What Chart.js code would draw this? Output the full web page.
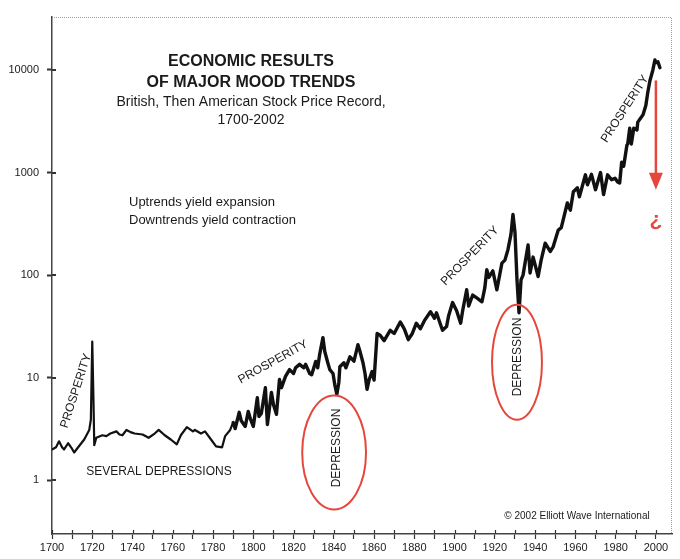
<!DOCTYPE html>
<html>
<head>
<meta charset="utf-8">
<script src="https://cdn.jsdelivr.net/npm/chart.js@4.4.1/dist/chart.umd.min.js"></script>
<style>
  html, body { margin: 0; padding: 0; background: #fff; }
  #wrap { width: 680px; height: 559px; position: relative; }
</style>
</head>
<body>
<div id="wrap"><canvas id="chart"></canvas></div>
<script>
// Stock price record (year, index value)
const years = [
  1700, 1702, 1703.5, 1705, 1706, 1708, 1709.5, 1711, 1713, 1716, 1718.5, 1719.3, 1720, 1720.6, 1721,
  1722, 1725, 1727, 1729, 1732, 1733.5, 1735, 1737, 1739, 1741, 1745, 1748, 1751, 1753, 1756,
  1759, 1762, 1764, 1767, 1770, 1771, 1774, 1776, 1779, 1781.5, 1784.5, 1786, 1788.5, 1790, 1791,
  1793, 1794, 1796, 1797.5, 1798.5, 1800, 1802, 1802.8, 1804, 1806, 1807, 1808, 1809, 1810, 1811.5,
  1813, 1814, 1816, 1818, 1820, 1821, 1823, 1825, 1826, 1828, 1829, 1831, 1832, 1833, 1834.6,
  1835.5, 1837, 1838, 1839.6, 1840.5, 1841.5, 1842.5, 1843, 1845, 1846, 1848, 1850, 1852, 1853, 1854.5,
  1855.5, 1856.5, 1857.5, 1859, 1860, 1861.5, 1863, 1865, 1868, 1870, 1873, 1875, 1877, 1879, 1881,
  1883, 1885, 1888, 1890, 1891, 1893, 1894, 1896, 1897, 1899, 1901, 1903, 1904, 1906, 1907,
  1909, 1911, 1913.6, 1915, 1916, 1917, 1919, 1921, 1923.5, 1925, 1926.5, 1928, 1929, 1930, 1931,
  1932, 1933, 1934, 1936.5, 1937.5, 1939, 1941.5, 1943, 1945, 1947.5, 1949, 1951.5, 1953, 1956, 1957.5,
  1959, 1961, 1962, 1965, 1966, 1968, 1970, 1972.5, 1974, 1976, 1978, 1979.7, 1981, 1982, 1983,
  1984, 1985.6, 1986, 1987, 1987.8, 1989, 1990.6, 1991, 1993.6, 1995, 1996, 1997, 1998.5, 1999.5, 2000,
  2001, 2002
];
const prices = [
  2.0, 2.1, 2.4, 2.1, 2.0, 2.3, 2.1, 1.87, 2.1, 2.5, 3.1, 3.9, 22.5, 6, 2.2,
  2.6, 2.75, 2.7, 2.86, 3.0, 2.8, 2.75, 3.1, 2.95, 2.86, 2.8, 2.6, 2.86, 3.1, 2.75,
  2.5, 2.24, 2.75, 3.3, 3.0, 3.1, 2.86, 3.0, 2.5, 2.14, 2.1, 2.7, 3.1, 3.66, 3.2,
  4.6, 3.8, 3.35, 4.7, 4.0, 3.35, 6.4, 4.2, 4.5, 8.0, 3.5, 5, 7.2, 5.5, 4.4,
  9.6, 8, 10.3, 12, 11, 12.5, 13.5, 12.5, 13.5, 11, 10.7, 14.4, 12.5, 17, 24.6,
  18, 14, 12, 11, 8.5, 6.9, 9, 12.8, 14, 12.5, 16, 14.5, 21, 18, 14,
  11, 7.7, 9.5, 11.5, 9.5, 27, 26, 23, 29, 27, 35, 30, 23.5, 27, 34,
  30, 36, 44, 38, 43, 33, 29, 31.5, 40, 54, 45, 34, 45, 72, 50,
  64, 60, 55, 75, 113, 95, 110, 72, 131, 140, 177, 250, 390, 260, 90,
  43, 90, 100, 197, 105, 150, 97, 140, 205, 170, 190, 275, 290, 505, 430,
  650, 710, 580, 950, 760, 960, 680, 1000, 610, 950, 850, 880, 810, 790, 1260,
  1150, 1850, 1900, 2700, 1900, 2700, 2600, 3100, 3650, 4500, 6100, 7800, 10000, 12500, 11800,
  12000, 10500
];

const yTickValues = [1, 10, 100, 1000, 10000];
const xTickYears = [1700, 1710, 1720, 1730, 1740, 1750, 1760, 1770, 1780, 1790, 1800, 1810, 1820, 1830,
  1840, 1850, 1860, 1870, 1880, 1890, 1900, 1910, 1920, 1930, 1940, 1950, 1960, 1970, 1980, 1990, 2000];

const FONT = '"Liberation Sans", Arial, Helvetica, sans-serif';
const RED = '#e5473d';

// annotation plugin: frame, inner ticks, texts, ellipses, arrow
const annotations = {
  id: 'annotations',
  afterDatasetsDraw(chart) {
    const { ctx, chartArea: a, scales: { x, y } } = chart;
    ctx.save();

    // dotted top/right frame
    ctx.strokeStyle = '#9a9a9a';
    ctx.lineWidth = 1;
    ctx.setLineDash([1, 1]);
    ctx.beginPath();
    ctx.moveTo(a.left, a.top + 0.5);
    ctx.lineTo(a.right - 0.5, a.top + 0.5);
    ctx.lineTo(a.right - 0.5, a.bottom);
    ctx.stroke();
    ctx.setLineDash([]);

    // inner half of the crossing ticks
    ctx.strokeStyle = '#333';
    ctx.lineWidth = 1.2;
    ctx.beginPath();
    xTickYears.forEach(v => {
      const px = Math.round(x.getPixelForValue(v)) + 0.5;
      ctx.moveTo(px, a.bottom);
      ctx.lineTo(px, a.bottom - 4);
    });
    ctx.stroke();
    ctx.lineWidth = 2;
    ctx.beginPath();
    yTickValues.forEach(v => {
      const py = Math.round(y.getPixelForValue(v));
      ctx.moveTo(a.left, py);
      ctx.lineTo(a.left + 4, py);
    });
    ctx.stroke();

    // red ellipses around depressions (data units)
    const ellipse = (x0, x1, v0, v1) => {
      const l = x.getPixelForValue(x0), r = x.getPixelForValue(x1);
      const t = y.getPixelForValue(v1), b = y.getPixelForValue(v0);
      ctx.beginPath();
      ctx.ellipse((l + r) / 2, (t + b) / 2, (r - l) / 2, (b - t) / 2, 0, 0, Math.PI * 2);
      ctx.stroke();
    };
    ctx.strokeStyle = RED;
    ctx.lineWidth = 2;
    ellipse(1824.3, 1856, 0.52, 6.7);
    ellipse(1918.6, 1943.4, 3.9, 51.5);

    // red arrow
    const ax = x.getPixelForValue(2000);
    const aTop = y.getPixelForValue(7900);
    const aTip = y.getPixelForValue(680);
    ctx.lineWidth = 2.5;
    ctx.beginPath();
    ctx.moveTo(ax, aTop);
    ctx.lineTo(ax, aTip - 14);
    ctx.stroke();
    ctx.fillStyle = RED;
    ctx.beginPath();
    ctx.moveTo(ax - 7, aTip - 17);
    ctx.lineTo(ax + 7, aTip - 17);
    ctx.lineTo(ax, aTip);
    ctx.closePath();
    ctx.fill();
    ctx.font = 'bold 21px ' + FONT;
    ctx.textAlign = 'center';
    ctx.textBaseline = 'middle';
    ctx.fillText('¿', ax, aTip + 30);

    // texts
    ctx.fillStyle = '#1a1a1a';
    ctx.textAlign = 'center';
    ctx.textBaseline = 'middle';
    ctx.font = 'bold 16px ' + FONT;
    ctx.fillText('ECONOMIC RESULTS', 251, 62);
    ctx.fillText('OF MAJOR MOOD TRENDS', 251, 83);
    ctx.font = '14px ' + FONT;
    ctx.fillText('British, Then American Stock Price Record,', 251, 102);
    ctx.fillText('1700-2002', 251, 120);

    ctx.textAlign = 'left';
    ctx.font = '13px ' + FONT;
    ctx.fillText('Uptrends yield expansion', 129, 202);
    ctx.fillText('Downtrends yield contraction', 129, 220);

    ctx.font = '12px ' + FONT;
    ctx.textAlign = 'center';
    ctx.fillText('SEVERAL DEPRESSIONS', 159, 472);

    ctx.font = '10px ' + FONT;
    ctx.fillText('\u00A9 2002 Elliott Wave International', 577, 516);

    const rotated = (text, cx, cy, deg, size) => {
      ctx.save();
      ctx.translate(cx, cy);
      ctx.rotate(deg * Math.PI / 180);
      ctx.font = size + 'px ' + FONT;
      ctx.fillText(text, 0, 0);
      ctx.restore();
    };
    rotated('PROSPERITY', 76, 391, -72, 12);
    rotated('PROSPERITY', 273, 362, -29, 12);
    rotated('PROSPERITY', 470, 256, -46, 12);
    rotated('PROSPERITY', 625, 109, -57, 12);
    rotated('DEPRESSION', 337, 448, -90, 12);
    rotated('DEPRESSION', 518, 357, -90, 12);

    ctx.restore();
  }
};

new Chart(document.getElementById('chart'), {
  type: 'line',
  data: {
    datasets: [{
      data: years.map((yr, i) => ({ x: yr, y: prices[i] })),
      borderColor: '#111',
      borderWidth: 2.6,
      borderJoinStyle: 'round',
      borderCapStyle: 'round',
      pointRadius: 0,
      tension: 0,
      segment: {
        borderWidth: c => (c.p0.parsed.x < 1790 ? 2.2 : 3.4)
      }
    }]
  },
  options: {
    responsive: true,
    maintainAspectRatio: false,
    animation: false,
    layout: { padding: { top: 17, right: 8, left: 0, bottom: 0 } },
    plugins: {
      legend: { display: false },
      tooltip: { enabled: false }
    },
    scales: {
      x: {
        type: 'linear',
        min: 1700,
        max: 2008,
        afterFit: s => { s.height = 25; },
        afterBuildTicks: s => { s.ticks = xTickYears.map(v => ({ value: v })); },
        ticks: {
          callback: v => (v % 20 === 0 ? String(v) : ''),
          color: '#222',
          font: { family: FONT, size: 11 },
          padding: 2,
          maxRotation: 0,
          autoSkip: false
        },
        grid: { drawOnChartArea: false, tickLength: 5, color: '#333', tickWidth: 1.2 },
        border: { color: '#444', width: 1.5 }
      },
      y: {
        type: 'logarithmic',
        min: 0.305,
        max: 32800,
        afterFit: s => { s.width = 52; },
        afterBuildTicks: s => { s.ticks = yTickValues.map(v => ({ value: v })); },
        ticks: {
          callback: v => String(v),
          color: '#222',
          font: { family: FONT, size: 11 },
          padding: 8,
          autoSkip: false
        },
        grid: { drawOnChartArea: false, tickLength: 5, color: '#333', tickWidth: 2 },
        border: { color: '#444', width: 1.5 }
      }
    }
  },
  plugins: [annotations]
});
</script>
</body>
</html>
